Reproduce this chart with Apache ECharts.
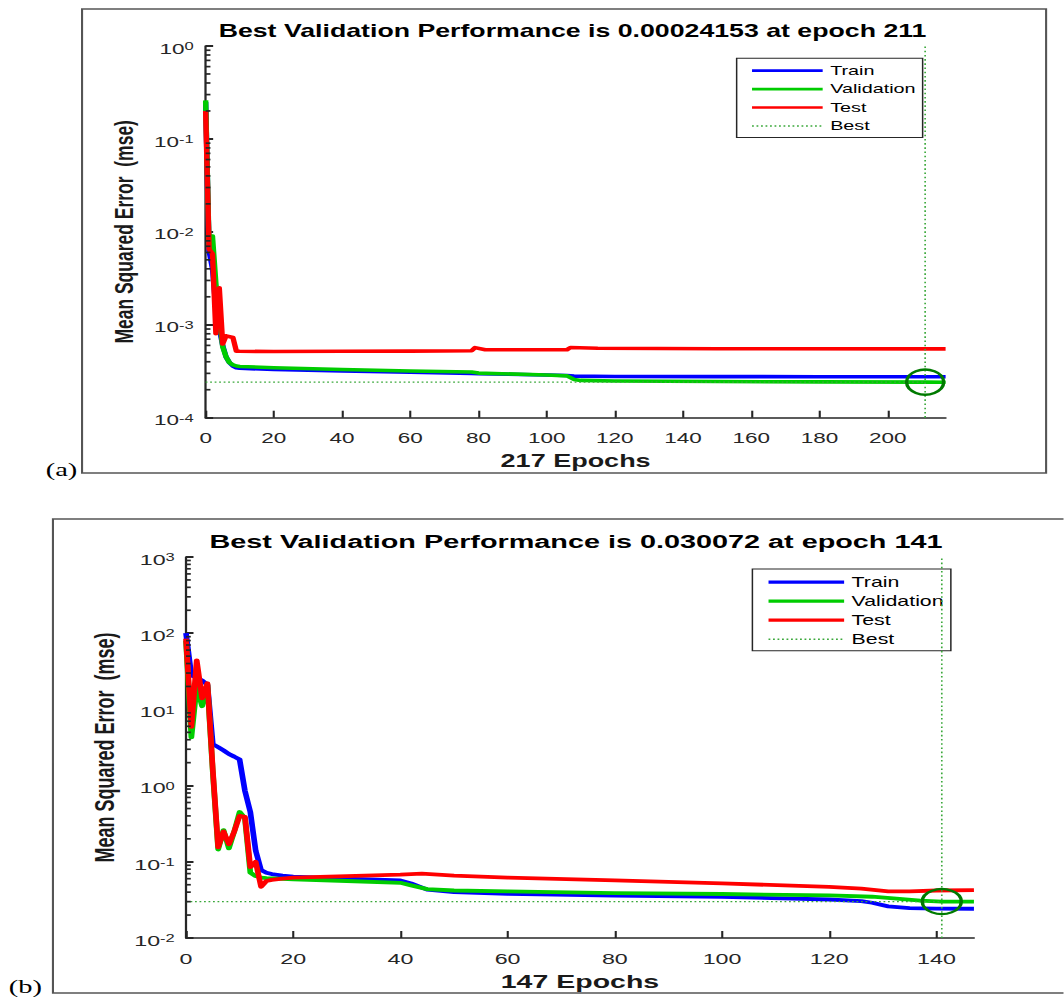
<!DOCTYPE html>
<html>
<head>
<meta charset="utf-8">
<script src="https://cdn.jsdelivr.net/npm/echarts@6/dist/echarts.min.js"></script>
<style>
html,body{margin:0;padding:0;background:#fff;overflow:hidden;}
#wrap{width:1064px;height:1000px;overflow:hidden;}
#chart{width:709.4px;height:1000px;transform:scaleX(1.5);transform-origin:0 0;}
</style>
</head>
<body>
<div id="wrap"><div id="chart"></div></div>
<script>
// ---------- Panel (a) ----------
const titleA = 'Best Validation Performance is 0.00024153 at epoch 211';
const xNameA = '217 Epochs';
const epochMaxA = 217;
const xTicksA = [0, 20, 40, 60, 80, 100, 120, 140, 160, 180, 200];
const yMinA = 1e-4, yMaxA = 1;
const decadesA = [-4, -3, -2, -1];
const trainEpochA = [0, 1, 2, 3, 4, 5, 6, 7, 8, 9, 10, 20, 40, 60, 78, 80, 100, 106, 108, 120, 150, 180, 211, 217];
const trainMseA = [0.25, 0.0062, 0.004, 0.0015, 0.0009, 0.0006, 0.00045, 0.00039, 0.00036, 0.000345, 0.00034, 0.00033, 0.000318, 0.000308, 0.0003, 0.000298, 0.000288, 0.000284, 0.00028, 0.000278, 0.000277, 0.000276, 0.000276, 0.000276];
const valEpochA = [0, 1, 2, 3, 4, 5, 6, 7, 8, 9, 10, 20, 40, 60, 78, 80, 100, 106, 108, 110, 120, 150, 180, 211, 217];
const valMseA = [0.26, 0.007, 0.009, 0.0028, 0.0012, 0.00058, 0.00045, 0.00039, 0.00037, 0.00036, 0.000356, 0.000345, 0.00033, 0.000318, 0.00031, 0.000302, 0.000288, 0.000282, 0.000258, 0.000252, 0.000248, 0.000245, 0.000243, 0.00024153, 0.000241];
const testEpochA = [0, 1, 2, 3, 4, 5, 6, 8, 9, 10, 20, 40, 60, 78, 79, 82, 106, 107, 115, 150, 217];
const testMseA = [0.2, 0.0065, 0.0058, 0.0008, 0.0025, 0.00062, 0.00076, 0.00073, 0.00052, 0.000518, 0.000515, 0.000518, 0.00052, 0.000525, 0.000568, 0.000538, 0.00054, 0.00057, 0.000558, 0.000553, 0.00055];
const bestEpochA = 211, bestValueA = 0.00024153;

// ---------- Panel (b) ----------
const titleB = 'Best Validation Performance is 0.030072 at epoch 141';
const xNameB = '147 Epochs';
const epochMaxB = 147;
const xTicksB = [0, 20, 40, 60, 80, 100, 120, 140];
const yMinB = 1e-2, yMaxB = 1e3;
const decadesB = [-2, -1, 0, 1, 2];
const trainEpochB = [0, 1, 2, 3, 4, 5, 6, 7, 8, 9, 10, 11, 12, 13, 14, 15, 16, 18, 20, 30, 40, 42, 45, 50, 60, 80, 100, 120, 126, 128, 131, 135, 140, 147];
const trainMseB = [100, 28, 26, 24, 21, 3.5, 3.2, 2.9, 2.6, 2.4, 2.2, 0.85, 0.45, 0.14, 0.078, 0.072, 0.069, 0.066, 0.064, 0.06, 0.057, 0.052, 0.043, 0.04, 0.038, 0.036, 0.0347, 0.032, 0.0305, 0.029, 0.026, 0.0247, 0.0243, 0.0242];
const valEpochB = [0, 1, 2, 3, 4, 5, 6, 7, 8, 9, 10, 11, 12, 13, 14, 15, 20, 30, 40, 42, 45, 50, 60, 80, 100, 120, 128, 132, 137, 141, 147];
const valMseB = [80, 4.3, 20, 11, 21, 1.5, 0.145, 0.26, 0.15, 0.25, 0.45, 0.37, 0.072, 0.065, 0.062, 0.061, 0.059, 0.056, 0.053, 0.049, 0.0438, 0.042, 0.041, 0.0388, 0.0378, 0.0362, 0.0348, 0.0332, 0.031, 0.030072, 0.03];
const testEpochB = [0, 1, 2, 3, 4, 5, 6, 7, 8, 9, 10, 11, 12, 13, 14, 15, 16, 18, 20, 30, 40, 44, 50, 60, 80, 100, 120, 126, 131, 135, 140, 147];
const testMseB = [85, 5.9, 44, 14, 22, 1.6, 0.155, 0.25, 0.17, 0.25, 0.4, 0.39, 0.085, 0.1, 0.047, 0.056, 0.058, 0.06, 0.062, 0.065, 0.068, 0.07, 0.066, 0.062, 0.057, 0.052, 0.047, 0.0445, 0.041, 0.041, 0.042, 0.0425];
const bestEpochB = 141, bestValueB = 0.030072;

const minorMultipliers = [2, 3, 4, 5, 6, 7, 8, 9];
const legendNames = ['Train', 'Validation', 'Test', 'Best'];
const panelLabels = ['(a)', '(b)'];

// ---------- styling ----------
const FONT = '"Liberation Sans", Arial, Helvetica, sans-serif';
const AX = '#262626';
const C_TRAIN = '#0000ff', C_VAL = '#00cc00', C_TEST = '#ff0000', C_BEST = '#3aa83a', C_CIRCLE = '#007a00';

function pairs(xs, ys) { return xs.map((x, i) => [x, ys[i]]); }
function minorTicks(decades) {
  const out = [];
  decades.forEach(d => minorMultipliers.forEach(m => out.push([0, m * Math.pow(10, d)])));
  return out;
}
function line(name, data, color, width, idx, extra) {
  return Object.assign({
    type: 'line', name, data, xAxisIndex: idx, yAxisIndex: idx,
    showSymbol: false, symbol: 'none', animation: false,
    lineStyle: { color, width, join: 'round' }, itemStyle: { color }, z: 3
  }, extra || {});
}
function xAxis(idx, max, ticks, name, nameGap, nameSize, labelSize) {
  return {
    type: 'value', gridIndex: idx, min: 0, max, interval: 20,
    name, nameLocation: 'middle', nameGap,
    nameTextStyle: { fontFamily: FONT, fontSize: nameSize, fontWeight: 'bold', color: '#1a1a1a' },
    axisLine: { show: true, onZero: false, lineStyle: { color: AX, width: 1.6 } },
    axisTick: { show: true, inside: true, length: 7, lineStyle: { color: AX, width: 1.4 }, customValues: ticks },
    axisLabel: { show: true, margin: 13, fontFamily: FONT, fontSize: labelSize, color: AX, customValues: ticks },
    splitLine: { show: false }
  };
}
function yAxis(idx, min, max, nameGap, nameSize, labelSize, margin) {
  return {
    type: 'log', logBase: 10, gridIndex: idx, min, max,
    name: 'Mean Squared Error  (mse)', nameLocation: 'middle', nameGap,
    nameTextStyle: { fontFamily: FONT, fontSize: nameSize, fontWeight: 'bold', color: '#1a1a1a' },
    axisLine: { show: true, onZero: false, lineStyle: { color: AX, width: 1.5 } },
    axisTick: { show: true, inside: true, length: 5, lineStyle: { color: AX, width: 2 } },
    minorTick: { show: false },
    splitLine: { show: false },
    axisLabel: {
      show: true, margin, padding: [5, 0, 0, 0],
      formatter: v => '{b|10}{s|' + Math.round(Math.log10(v)) + '}',
      rich: {
        b: { fontFamily: FONT, fontSize: labelSize, lineHeight: labelSize, verticalAlign: 'bottom', color: AX },
        s: { fontFamily: FONT, fontSize: 11, lineHeight: 11, verticalAlign: 'top', padding: [0, 0, 7, 0], color: AX }
      }
    }
  };
}
function legend(left, top, padding, itemWidth, rowHeight, fontSize, lw) {
  const styles = {
    Train: { color: C_TRAIN, width: lw, type: 'solid' },
    Validation: { color: C_VAL, width: lw, type: 'solid' },
    Test: { color: C_TEST, width: lw, type: 'solid' },
    Best: { color: C_BEST, width: 1.5, type: [1.2, 1.8] }
  };
  return {
    orient: 'vertical', left, top, padding, itemWidth, itemHeight: 12, itemGap: 0,
    selectedMode: false, backgroundColor: '#fff', borderColor: AX, borderWidth: 1, borderRadius: 0,
    itemStyle: { opacity: 0 },
    textStyle: { fontFamily: FONT, fontSize, lineHeight: rowHeight, color: '#000' },
    data: legendNames.map(n => ({ name: n, lineStyle: styles[n], itemStyle: { opacity: 0 } }))
  };
}
function minorSeries(idx, decades) {
  return {
    type: 'scatter', name: 'minor' + idx, xAxisIndex: idx, yAxisIndex: idx,
    data: minorTicks(decades), symbol: 'rect', symbolSize: [3.2, 1.7], symbolOffset: [1.6, 0],
    itemStyle: { color: AX, opacity: 1 }, silent: true, clip: false, animation: false, z: 6
  };
}

const option = {
  animation: false,
  backgroundColor: '#fff',
  textStyle: { fontFamily: FONT },
  grid: [
    { left: 137.1, top: 46, width: 493.3, height: 371.7, containLabel: false, outerBoundsMode: 'none' },
    { left: 124, top: 557, width: 525.3, height: 381, containLabel: false, outerBoundsMode: 'none' }
  ],
  xAxis: [
    xAxis(0, epochMaxA, xTicksA, xNameA, 34, 18, 15),
    xAxis(1, epochMaxB, xTicksB, xNameB, 33.5, 19, 15.5)
  ],
  yAxis: [
    yAxis(0, yMinA, yMaxA, 37, 17.5, 15, 8),
    yAxis(1, yMinB, yMaxB, 43.5, 18, 15.5, 7.5)
  ],
  legend: [
    legend(491.1, 58.3, [3.2, 4.7, 2.5, 8.9], 47.1, 18.4, 13.2, 2.7),
    legend(501.6, 569, [3.7, 4.9, 2, 9.1], 50.4, 19, 14.2, 3.3)
  ],
  graphic: [
    { type: 'rect', silent: true, shape: { x: 54.7, y: 9, width: 642.7, height: 464 }, style: { fill: 'none', stroke: '#555', lineWidth: 1.4 } },
    { type: 'rect', silent: true, shape: { x: 35.3, y: 519, width: 720, height: 474 }, style: { fill: 'none', stroke: '#555', lineWidth: 1.4 } },
    { type: 'text', silent: true, x: 381.7, y: 31, style: { text: titleA, fontFamily: FONT, fontSize: 17.8, fontWeight: 'bold', fill: '#000', align: 'center', verticalAlign: 'middle', textAlign: 'center', textVerticalAlign: 'middle' } },
    { type: 'text', silent: true, x: 384, y: 541.5, style: { text: titleB, fontFamily: FONT, fontSize: 19.2, fontWeight: 'bold', fill: '#000', align: 'center', verticalAlign: 'middle', textAlign: 'center', textVerticalAlign: 'middle' } },
    { type: 'text', silent: true, x: 41, y: 469, style: { text: panelLabels[0], fontFamily: '"Liberation Serif", "DejaVu Serif", serif', fontSize: 19, fill: '#000', align: 'center', verticalAlign: 'middle', textAlign: 'center', textVerticalAlign: 'middle' } },
    { type: 'text', silent: true, x: 16.9, y: 986, style: { text: panelLabels[1], fontFamily: '"Liberation Serif", "DejaVu Serif", serif', fontSize: 19, fill: '#000', align: 'center', verticalAlign: 'middle', textAlign: 'center', textVerticalAlign: 'middle' } }
  ],
  series: [
    line('Train', pairs(trainEpochA, trainMseA), C_TRAIN, 3.6, 0),
    line('Validation', pairs(valEpochA, valMseA), C_VAL, 3.6, 0),
    line('Test', pairs(testEpochA, testMseA), C_TEST, 3.6, 0),
    line('Best', [[0, bestValueA], [bestEpochA, bestValueA]], C_BEST, 1.2, 0, { lineStyle: { color: C_BEST, width: 1.2, type: [1.2, 1.8] }, z: 4 }),
    line('Best', [[bestEpochA, yMinA], [bestEpochA, yMaxA]], C_BEST, 1.1, 0, { lineStyle: { color: C_BEST, width: 1.1, type: [1.6, 2.6] }, z: 4 }),
    { type: 'scatter', name: 'bestPointA', xAxisIndex: 0, yAxisIndex: 0, data: [[bestEpochA, bestValueA]], symbol: 'circle', symbolSize: [24.7, 25], itemStyle: { color: 'transparent', borderColor: C_CIRCLE, borderWidth: 2.3, opacity: 1 }, silent: true, z: 5, animation: false },
    minorSeries(0, decadesA),

    line('Train', pairs(trainEpochB, trainMseB), C_TRAIN, 3.8, 1),
    line('Validation', pairs(valEpochB, valMseB), C_VAL, 3.8, 1),
    line('Test', pairs(testEpochB, testMseB), C_TEST, 3.8, 1),
    line('Best', [[0, bestValueB], [bestEpochB, bestValueB]], C_BEST, 1.2, 1, { lineStyle: { color: C_BEST, width: 1.2, type: [1.2, 1.8] }, z: 4 }),
    line('Best', [[bestEpochB, yMinB], [bestEpochB, yMaxB]], C_BEST, 1.1, 1, { lineStyle: { color: C_BEST, width: 1.1, type: [1.6, 2.6] }, z: 4 }),
    { type: 'scatter', name: 'bestPointB', xAxisIndex: 1, yAxisIndex: 1, data: [[bestEpochB, bestValueB]], symbol: 'circle', symbolSize: [26, 25], itemStyle: { color: 'transparent', borderColor: C_CIRCLE, borderWidth: 2.3, opacity: 1 }, silent: true, z: 5, animation: false },
    minorSeries(1, decadesB)
  ]
};

const chart = echarts.init(document.getElementById('chart'), null, { renderer: 'svg' });
chart.setOption(option);
</script>
</body>
</html>
